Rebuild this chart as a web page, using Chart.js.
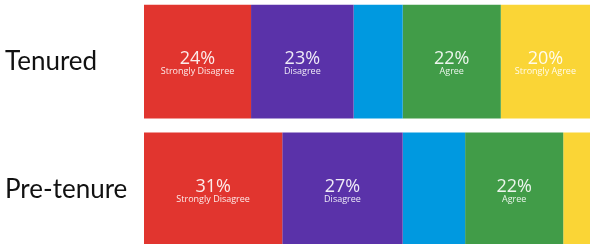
<!DOCTYPE html>
<html>
<head>
<meta charset="utf-8">
<script src="https://cdn.jsdelivr.net/npm/chart.js@4/dist/chart.umd.min.js"></script>
<style>
  html, body { margin: 0; padding: 0; background: #fff; overflow: hidden; }
  #wrap { position: relative; width: 593px; height: 244px; overflow: hidden; }
  #box { position: absolute; left: 0; top: -18px; width: 593px; height: 287px; }
</style>
</head>
<body>
<div id="wrap"><div id="box"><canvas id="barChart"></canvas></div></div>
<script>
// groups, top to bottom
const groups = ["Tenured", "Pre-tenure"];

// answer categories and their shares (%)
const answers = ["Strongly Disagree", "Disagree", "Neutral", "Agree", "Strongly Agree"];
const stronglyDisagree = [24, 31];
const disagree = [23, 27];
const neutral = [11, 14];
const agree = [22, 22];
const stronglyAgree = [20, 6];

const colors = ["#E1352F", "#5A32A9", "#0099E0", "#419C48", "#FAD536"];
const showText = [true, true, false, true, true];

const segmentText = {
  id: "segmentText",
  afterDatasetsDraw(chart) {
    const ctx = chart.ctx;
    ctx.save();
    ctx.textAlign = "center";
    ctx.textBaseline = "middle";
    ctx.fillStyle = "rgba(255,255,255,0.9)";
    chart.data.datasets.forEach(function(ds, i) {
      if (!showText[i]) return;
      chart.getDatasetMeta(i).data.forEach(function(bar, j) {
        const v = ds.data[j];
        if (v < 10) return;
        const cx = bar.x - (bar.x - bar.base) / 2;
        ctx.font = "18px 'Open Sans'";
        ctx.fillText(v + "%", cx, bar.y - 3);
        ctx.font = "9px 'Open Sans'";
        ctx.fillText(ds.label, cx, bar.y + 10);
      });
    });
    ctx.restore();
  }
};

const series = [stronglyDisagree, disagree, neutral, agree, stronglyAgree];

new Chart(document.getElementById("barChart").getContext("2d"), {
  type: "bar",
  data: {
    labels: groups,
    datasets: series.map(function(d, i) {
      return {
        label: answers[i],
        data: d,
        backgroundColor: colors[i],
        borderWidth: 0,
        borderSkipped: false,
        categoryPercentage: 1,
        barPercentage: 0.89
      };
    })
  },
  options: {
    indexAxis: "y",
    responsive: true,
    maintainAspectRatio: false,
    animation: false,
    layout: { padding: { top: 6, bottom: 6, left: 5, right: 3 } },
    plugins: { legend: { display: false }, tooltip: { enabled: false } },
    scales: {
      x: { stacked: true, display: false, min: 0, max: 100 },
      y: {
        stacked: true,
        grid: { display: false },
        border: { display: false },
        ticks: {
          crossAlign: "far",
          padding: 0,
          color: "#111",
          font: { family: "Lato", size: 26 }
        },
        afterFit: function(scale) { scale.width = 139; }
      }
    }
  },
  plugins: [segmentText]
});
</script>
</body>
</html>
